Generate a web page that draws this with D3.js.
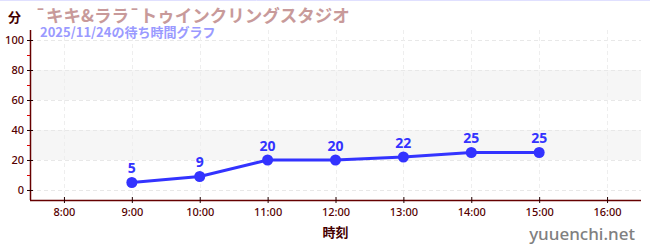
<!DOCTYPE html>
<html>
<head>
<meta charset="utf-8">
<script src="https://cdn.jsdelivr.net/npm/d3@7"></script>
<style>
body{margin:0;background:#fff;}
svg{display:block;font-family:"Noto Sans CJK JP","Noto Sans",sans-serif;}
</style>
</head>
<body>
<div id="chart"></div>
<script>
const hours = [9,10,11,12,13,14,15];
const waits = [5,9,20,20,22,25,25];
const xTicks = [8,9,10,11,12,13,14,15,16];
const yTicks = [0,20,40,60,80,100];
const yMinor = [10,30,50,70,90];
const bands = [[20,40],[60,80]];
const title = "¯キキ&ララ¯トゥインクリングスタジオ";
const subtitle = "2025/11/24の待ち時間グラフ";

var W = 650, H = 250;
var mLeft = 30, mRight = 641, mTop = 30, mBottom = 200;
var axisCol = "#660000";

var svg = d3.select("#chart").append("svg")
	.attr("width",W)
	.attr("height",H);

var x = d3.scaleLinear().domain([7.5,16.5]).range([mLeft,mRight]);
var y = d3.scaleLinear().domain([-6.67,106.67]).range([mBottom,mTop]);

// top border
svg.append("line")
	.attr("x1",0).attr("x2",W).attr("y1",0.5).attr("y2",0.5)
	.attr("stroke","#e0e0ff").attr("stroke-width",1);

// bands
svg.selectAll(".band").data(bands).enter().append("rect")
	.attr("x",mLeft).attr("width",mRight-mLeft)
	.attr("y",d => y(d[1])).attr("height",d => y(d[0])-y(d[1]))
	.attr("fill","#f6f6f6");

// grid
svg.selectAll(".hg").data(yTicks).enter().append("line")
	.attr("x1",mLeft).attr("x2",mRight)
	.attr("y1",d => Math.round(y(d))+0.5).attr("y2",d => Math.round(y(d))+0.5)
	.attr("stroke","#e8e8e8").attr("stroke-dasharray","4,3");
svg.selectAll(".vg").data(xTicks).enter().append("line")
	.attr("x1",d => Math.round(x(d))+0.5).attr("x2",d => Math.round(x(d))+0.5)
	.attr("y1",mTop).attr("y2",mBottom)
	.attr("stroke","#eeeeee").attr("stroke-dasharray","4,3");

// axes
var yAxis = svg.append("g").attr("transform","translate("+mLeft+",0)")
	.call(d3.axisLeft(y).tickValues(yTicks).tickSize(3).tickPadding(3));
yAxis.select(".domain").attr("stroke",axisCol).attr("stroke-width",1.5)
	.attr("d","M0.5,"+mTop+"V"+mBottom);
yAxis.selectAll(".tick line").attr("stroke","#220000").attr("x1",3);
yAxis.selectAll(".tick text").attr("fill","#550000")
	.style("font-size","11px").style("font-weight","500")
	.style("font-family","'Noto Sans','DejaVu Sans',sans-serif");
svg.selectAll(".minor").data(yMinor).enter().append("line")
	.attr("x1",mLeft-3).attr("x2",mLeft)
	.attr("y1",d => Math.round(y(d))+0.5).attr("y2",d => Math.round(y(d))+0.5)
	.attr("stroke","#dd0000");

var xAxis = svg.append("g").attr("transform","translate(0,"+mBottom+")")
	.call(d3.axisBottom(x).tickValues(xTicks).tickFormat(d => d+":00").tickSize(3).tickPadding(5));
xAxis.select(".domain").attr("stroke",axisCol).attr("stroke-width",1.5)
	.attr("d","M"+mLeft+",0.5H"+mRight);
xAxis.selectAll(".tick line").attr("stroke","#220000").attr("y1",-3);
xAxis.selectAll(".tick text").attr("fill","#550000")
	.style("font-size","11px").style("font-weight","500")
	.style("font-family","'Liberation Sans Narrow','Noto Sans',sans-serif");

// line + points
var line = d3.line().x((d,i) => x(hours[i])).y(d => y(d));
svg.append("path").datum(waits)
	.attr("d",line).attr("fill","none")
	.attr("stroke","#3333ff").attr("stroke-width",3);
svg.selectAll(".pt").data(waits).enter().append("circle")
	.attr("cx",(d,i) => x(hours[i])).attr("cy",d => y(d)).attr("r",5.5)
	.attr("fill","#3333ff");
svg.selectAll(".lbl").data(waits).enter().append("text")
	.attr("x",(d,i) => x(hours[i])).attr("y",d => y(d)-9)
	.attr("text-anchor","middle").attr("fill","#3333ff")
	.style("font-size","14px").style("font-weight","bold")
	.style("font-family","'Noto Sans',sans-serif")
	.text(d => d);

// titles
svg.append("text").attr("x",8).attr("y",22).attr("fill","#440000")
	.style("font-size","13px").style("font-weight","bold").text("分");
svg.append("text").attr("x",35).attr("y",22).attr("fill","#c89a9a")
	.style("font-size","17.5px").style("font-weight","bold").text(title);
svg.append("text").attr("x",40).attr("y",37).attr("fill","#9a9aff")
	.style("font-size","13px").style("font-weight","bold").text(subtitle);
svg.append("text").attr("x",(mLeft+mRight)/2).attr("y",237).attr("text-anchor","middle")
	.attr("fill","#440000").style("font-size","13px").style("font-weight","bold").text("時刻");
svg.append("text").attr("x",635).attr("y",240).attr("text-anchor","end")
	.attr("fill","#808080").style("font-size","17px").style("font-weight","500")
	.style("font-family","'Noto Sans',sans-serif").text("yuuenchi.net");
</script>
</body>
</html>
